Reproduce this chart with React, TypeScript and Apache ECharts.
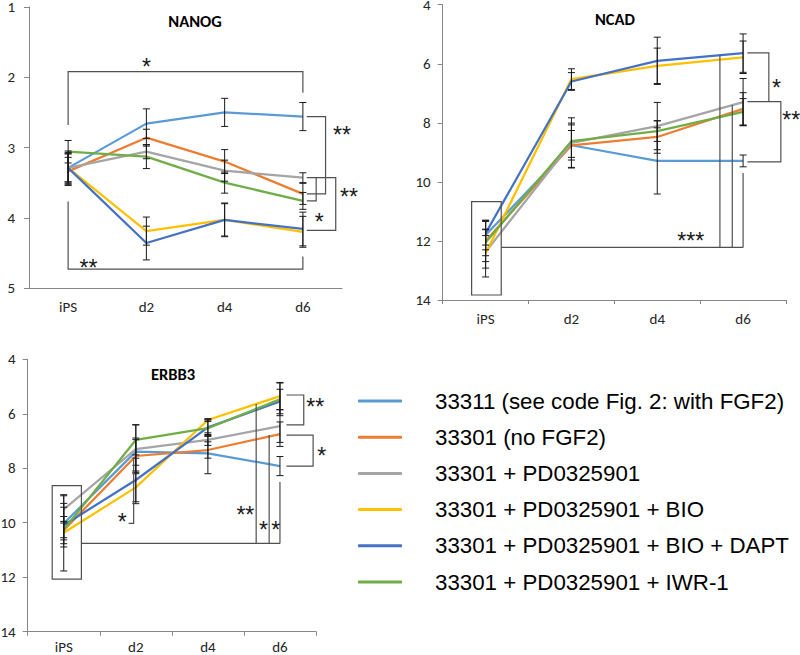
import React, { useEffect, useRef } from 'react';
import * as echarts from 'echarts';

const categories = ['iPS', 'd2', 'd4', 'd6'];
const seriesNames = [
  '33311 (see code Fig. 2: with FGF2)',
  '33301 (no FGF2)',
  '33301 + PD0325901',
  '33301 + PD0325901 + BIO',
  '33301 + PD0325901 + BIO + DAPT',
  '33301 + PD0325901 + IWR-1',
];
const seriesColors = ['#5B9BD5', '#ED7D31', '#A5A5A5', '#FFC000', '#4472C4', '#70AD47'];

// NANOG
const nanogValues = [
  [3.29, 2.66, 2.5, 2.56],
  [3.34, 2.86, 3.2, 3.66],
  [3.29, 3.06, 3.33, 3.43],
  [3.29, 4.19, 4.03, 4.2],
  [3.29, 4.36, 4.03, 4.16],
  [3.06, 3.13, 3.5, 3.76],
];
const nanogErrors = [
  [0.2, 0.21, 0.2, 0.2],
  [0.2, 0.12, 0.17, 0.15],
  [0.22, 0.1, 0.15, 0.07],
  [0.2, 0.2, 0.23, 0.22],
  [0.24, 0.24, 0.24, 0.24],
  [0.16, 0.17, 0.15, 0.12],
];

// NCAD
const ncadValues = [
  [11.8, 8.76, 9.29, 9.29],
  [12.0, 8.76, 8.48, 7.53],
  [12.37, 8.68, 8.11, 7.3],
  [12.42, 6.52, 6.07, 5.78],
  [11.74, 6.6, 5.9, 5.64],
  [12.05, 8.62, 8.28, 7.63],
];
const ncadErrors = [
  [0.5, 0.75, 1.12, 0.2],
  [0.7, 0.5, 0.55, 0.55],
  [0.55, 0.85, 0.8, 0.8],
  [0.8, 0.35, 0.6, 0.55],
  [0.4, 0.3, 0.8, 0.65],
  [0.45, 0.55, 0.35, 0.45],
];

// ERBB3
const erbb3Values = [
  [10.03, 7.39, 7.45, 7.92],
  [10.27, 7.55, 7.33, 6.75],
  [9.51, 7.3, 6.96, 6.45],
  [10.37, 8.7, 6.23, 5.35],
  [10.09, 8.43, 6.5, 5.55],
  [10.25, 6.96, 6.53, 5.47],
];
const erbb3Errors = [
  [0.6, 0.5, 0.75, 0.35],
  [0.5, 0.6, 0.3, 0.45],
  [0.5, 0.9, 0.2, 0.6],
  [1.4, 0.6, 0.05, 0.5],
  [0.8, 0.8, 0.3, 0.45],
  [0.3, 0.55, 0.3, 0.6],
];

const panelTitles = ['NANOG', 'NCAD', 'ERBB3'];
const panelValues = [nanogValues, ncadValues, erbb3Values];
const panelErrors = [nanogErrors, ncadErrors, erbb3Errors];
const panelRanges = [
  [1, 5, 1],
  [4, 14, 2],
  [4, 14, 2],
];

// layout
const grids = [
  { left: 29, top: 7, width: 313, height: 281 },
  { left: 442.7, top: 4.7, width: 343.3, height: 295.3 },
  { left: 27.7, top: 359.3, width: 288.3, height: 272.4 },
];
const titlePos = [
  [190, 21.5],
  [610, 19],
  [168, 374],
];
const yLabelMargins = [14, 12, 12];
const xTickShow = [false, true, true];
const xLabelMargins = [12, 12, 9];

// significance annotations (category position, value)
type Pt = [number, number];
const annotations: {
  grid: number;
  lines: Pt[][];
  rects: [number, number, number, number][];
  labels: [string, number, number][];
}[] = [
  {
    grid: 0,
    lines: [
      [[0, 2.68], [0, 1.92], [3, 1.92], [3, 2.22]],
      [[0, 3.77], [0, 4.73], [3, 4.73], [3, 4.55]],
      [[3.05, 2.56], [3.29, 2.56], [3.29, 3.66], [3.05, 3.66]],
      [[3.05, 3.43], [3.42, 3.43], [3.42, 4.18], [3.05, 4.18]],
      [[3.17, 3.43], [3.17, 3.76], [3.05, 3.76]],
    ],
    rects: [],
    labels: [
      ['*', 1, 1.78],
      ['**', 0.26, 4.64],
      ['**', 3.5, 2.75],
      ['**', 3.59, 3.63],
      ['*', 3.21, 3.98],
    ],
  },
  {
    grid: 1,
    lines: [
      [[0.182, 12.22], [3, 12.22]],
      [[2.73, 5.7], [2.73, 12.22]],
      [[2.874, 7.4], [2.874, 12.22]],
      [[3, 9.7], [3, 12.22]],
      [[3.05, 5.63], [3.3, 5.63], [3.3, 7.28]],
      [[3.05, 7.28], [3.44, 7.28], [3.44, 9.32], [3.05, 9.32]],
    ],
    rects: [[-0.163, 10.67, 0.182, 13.83]],
    labels: [
      ['***', 2.39, 11.82],
      ['*', 3.39, 6.64],
      ['**', 3.56, 7.73],
    ],
  },
  {
    grid: 2,
    lines: [
      [[0.245, 10.76], [3, 10.76]],
      [[2.67, 5.64], [2.67, 10.76]],
      [[2.85, 6.78], [2.85, 10.76]],
      [[3, 8.5], [3, 10.76]],
      [[0.97, 7.67], [0.97, 10.02], [0.9, 10.02]],
      [[3.09, 5.31], [3.33, 5.31], [3.33, 6.41], [3.09, 6.41]],
      [[3.09, 6.78], [3.46, 6.78], [3.46, 7.92], [3.09, 7.92]],
    ],
    rects: [[-0.16, 8.64, 0.245, 12.07]],
    labels: [
      ['**', 2.52, 9.51],
      ['*', 2.77, 10.09],
      ['*', 2.94, 10.09],
      ['*', 0.81, 9.78],
      ['**', 3.49, 5.56],
      ['*', 3.58, 7.37],
    ],
  },
];

const AXIS_FONT = 'Carlito, Lato, sans-serif';
const ANN_COLOR = '#505050';
const STAR_SIZE = 23;

function buildOption() {
  const series: any[] = [];
  panelValues.forEach((vals, g) => {
    vals.forEach((row, s) => {
      series.push({
        type: 'line',
        name: seriesNames[s],
        xAxisIndex: g,
        yAxisIndex: g,
        data: row,
        symbol: 'none',
        lineStyle: { width: 2.25, color: seriesColors[s] },
        itemStyle: { color: seriesColors[s] },
        z: 2,
      });
    });
    const errData: number[][] = [];
    vals.forEach((row, s) => {
      row.forEach((v, i) => {
        const e = panelErrors[g][s][i];
        errData.push([i, v - e, v + e]);
      });
    });
    series.push({
      type: 'custom',
      xAxisIndex: g,
      yAxisIndex: g,
      data: errData,
      z: 3,
      encode: { x: 0, y: [1, 2] },
      renderItem: (params: any, api: any) => {
        const c = api.value(0);
        const p1 = api.coord([c, api.value(1)]);
        const p2 = api.coord([c, api.value(2)]);
        const x = p1[0];
        const w = 3.5;
        const style = { stroke: '#1a1a1a', lineWidth: 1 };
        return {
          type: 'group',
          children: [
            { type: 'line', shape: { x1: x, y1: p1[1], x2: x, y2: p2[1] }, style },
            { type: 'line', shape: { x1: x - w, y1: p1[1], x2: x + w, y2: p1[1] }, style },
            { type: 'line', shape: { x1: x - w, y1: p2[1], x2: x + w, y2: p2[1] }, style },
          ],
        };
      },
    });
  });

  return {
    animation: false,
    backgroundColor: '#ffffff',
    title: panelTitles.map((t, g) => ({
      text: t,
      left: titlePos[g][0],
      top: titlePos[g][1] - 14,
      textAlign: 'center',
      textStyle: { fontFamily: AXIS_FONT, fontWeight: 'bold', fontSize: 16.5, color: '#000' },
    })),
    grid: grids.map((g) => ({ ...g, containLabel: false, outerBoundsMode: 'none' })),
    xAxis: grids.map((_, g) => ({
      type: 'category',
      gridIndex: g,
      data: categories,
      boundaryGap: true,
      axisLine: { show: true, lineStyle: { color: '#868686', width: 1 } },
      axisTick: { show: xTickShow[g], length: 4, lineStyle: { color: '#868686' } },
      axisLabel: {
        margin: xLabelMargins[g],
        fontFamily: AXIS_FONT,
        fontSize: 15,
        lineHeight: 13,
        color: '#262626',
      },
      splitLine: { show: false },
    })),
    yAxis: grids.map((_, g) => ({
      type: 'value',
      gridIndex: g,
      inverse: true,
      min: panelRanges[g][0],
      max: panelRanges[g][1],
      interval: panelRanges[g][2],
      axisLine: { show: true, lineStyle: { color: '#868686', width: 1 } },
      axisTick: { show: true, length: 5, lineStyle: { color: '#868686' } },
      axisLabel: {
        margin: yLabelMargins[g],
        fontFamily: AXIS_FONT,
        fontSize: 15,
        lineHeight: 9,
        color: '#262626',
      },
      splitLine: { show: false },
    })),
    legend: {
      orient: 'vertical',
      left: 353,
      top: 384,
      itemWidth: 44,
      itemHeight: 3,
      itemGap: 12.2,
      icon: 'roundRect',
      data: seriesNames,
      textStyle: {
        fontFamily: '"Liberation Sans", Arial, sans-serif',
        fontSize: 22.3,
        lineHeight: 24,
        color: '#000',
        padding: [0, 0, 0, 28],
      },
    },
    series,
  };
}

function buildAnnotations(chart: any) {
  const out: any[] = [];
  annotations.forEach((a) => {
    const p0 = chart.convertToPixel({ gridIndex: a.grid }, [0, panelRanges[a.grid][0]]);
    const p1 = chart.convertToPixel({ gridIndex: a.grid }, [1, panelRanges[a.grid][0]]);
    const step = p1[0] - p0[0];
    const px = (c: number) => p0[0] + c * step;
    const py = (v: number) => chart.convertToPixel({ yAxisIndex: a.grid }, v);
    a.lines.forEach((pts) => {
      out.push({
        type: 'polyline',
        silent: true,
        z: 10,
        shape: { points: pts.map(([c, v]) => [px(c), py(v)]) },
        style: { stroke: ANN_COLOR, lineWidth: 1.2, fill: 'none' },
      });
    });
    a.rects.forEach(([c1, v1, c2, v2]) => {
      out.push({
        type: 'rect',
        silent: true,
        z: 10,
        shape: { x: px(c1), y: py(v1), width: px(c2) - px(c1), height: py(v2) - py(v1) },
        style: { stroke: ANN_COLOR, lineWidth: 1.2, fill: 'none' },
      });
    });
    a.labels.forEach(([t, c, v]) => {
      out.push({
        type: 'text',
        silent: true,
        z: 10,
        x: px(c),
        y: py(v) + STAR_SIZE * 0.23,
        style: {
          text: t,
          fontSize: STAR_SIZE,
          fontFamily: '"Liberation Sans", Arial, sans-serif',
          fill: '#1a1a1a',
          align: 'center',
          verticalAlign: 'middle',
        },
      });
    });
  });
  return out;
}

export default function App() {
  const ref = useRef<HTMLDivElement>(null);
  useEffect(() => {
    const chart = echarts.init(ref.current!, null, { renderer: 'svg' });
    chart.setOption(buildOption());
    chart.setOption({ graphic: buildAnnotations(chart) });
    return () => chart.dispose();
  }, []);
  return (
    <div
      ref={ref}
      style={{ position: 'absolute', left: 0, top: 0, width: 800, height: 655 }}
    />
  );
}
